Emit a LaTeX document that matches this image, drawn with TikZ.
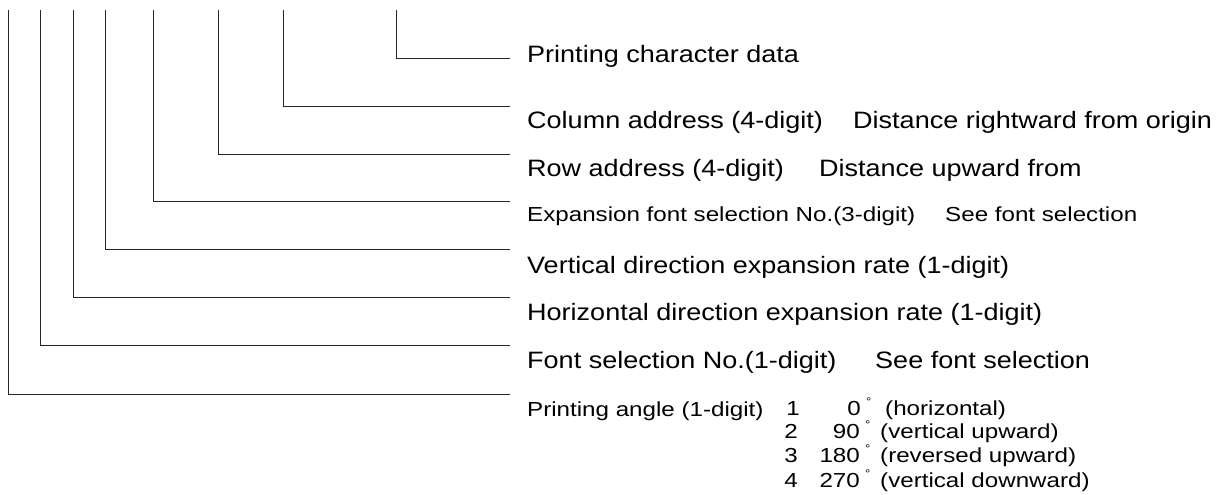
\documentclass[tikz,border=0pt]{standalone}
\usepackage{fontspec}
\newfontfamily\bigf{Liberation Sans}[FakeStretch=1.14]
\newfontfamily\smallf{Liberation Sans}[FakeStretch=1.19]
\tikzset{
  lbl/.style={anchor=base west, inner sep=0pt, font=\bigf\fontsize{23.7}{28}\selectfont},
  lble/.style={lbl, anchor=base east},
  slbl/.style={anchor=base west, inner sep=0pt, font=\smallf\fontsize{20.3}{24}\selectfont},
  slble/.style={slbl, anchor=base east},
  deg/.style={anchor=base west, inner sep=0pt, font=\smallf\fontsize{11}{12}\selectfont},
  lead/.style={draw=black!85, line width=1pt},
}
\begin{document}
\begin{tikzpicture}[x=1pt,y=-1pt]
\useasboundingbox (0,0) rectangle (1221,495);
% leader coordinates
\coordinate (t1) at (396.7,10); \coordinate (e1) at (510,58.3);
\coordinate (t2) at (283.3,10); \coordinate (e2) at (510,106);
\coordinate (t3) at (218.7,10); \coordinate (e3) at (510,154);
\coordinate (t4) at (153.7,10); \coordinate (e4) at (510,201.7);
\coordinate (t5) at (105.3,10); \coordinate (e5) at (510,249.7);
\coordinate (t6) at (73,10);    \coordinate (e6) at (510,297.7);
\coordinate (t7) at (40.7,10);  \coordinate (e7) at (510,345.7);
\coordinate (t8) at (8.3,10);   \coordinate (e8) at (510,394);
\foreach \i in {1,...,8} { \draw[lead] (t\i) |- (e\i); }
% labels
\node[lbl] (l1) at (527,63) {Printing character data};
\node[lbl] (l2) at (527,128) {Column address (4-digit)};
\node[lbl] (l2b) at (853,128) {Distance rightward from origin};
\node[lbl] (l3) at (527,176) {Row address (4-digit)};
\node[lble] (l3b) at (1082,176) {Distance upward from};
\node[slbl] (l4) at (527,221) {Expansion font selection No.(3-digit)};
\node[slbl] (l4b) at (945,221) {See font selection};
\node[lbl] (l5) at (527,273) {Vertical direction expansion rate (1-digit)};
\node[lbl] (l6) at (527,320) {Horizontal direction expansion rate (1-digit)};
\node[lbl] (l7) at (527,368) {Font selection No.(1-digit)};
\node[lbl] (l7b) at (875,368) {See font selection};
\node[slbl] (l8) at (527,416) {Printing angle (1-digit)};
% angle table
\node[slble] (a1) at (800,415) {1};
\node[slble] (n1) at (861,415) {0};
\node[deg] (d1) at (866,405) {°};
\node[slbl] (p1) at (885,415) {(horizontal)};
\node[slble] (a2) at (798,438) {2};
\node[slble] (n2) at (860,438) {90};
\node[deg] (d2) at (865,428) {°};
\node[slbl] (p2) at (880,438) {(vertical upward)};
\node[slble] (a3) at (798,462) {3};
\node[slble] (n3) at (860,462) {180};
\node[deg] (d3) at (865,452) {°};
\node[slbl] (p3) at (880,462) {(reversed upward)};
\node[slble] (a4) at (798,487) {4};
\node[slble] (n4) at (860,487) {270};
\node[deg] (d4) at (865,477) {°};
\node[slbl] (p4) at (880,487) {(vertical downward)};
\end{tikzpicture}
\end{document}
